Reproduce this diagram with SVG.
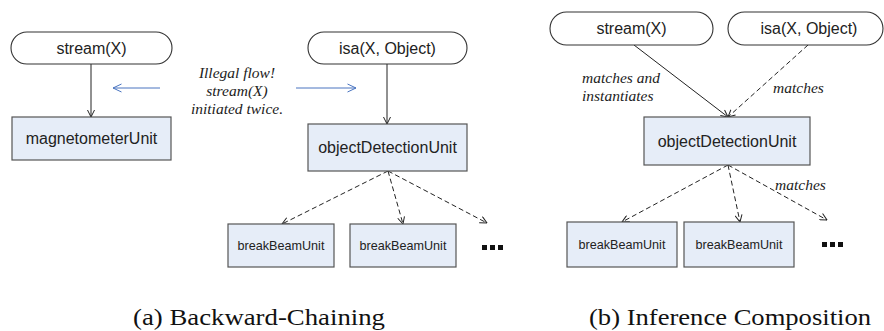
<svg xmlns="http://www.w3.org/2000/svg" width="884" height="331" viewBox="0 0 884 331">
<style>
.pill{fill:#fff;stroke:#333;stroke-width:1.1}
.box{fill:#e6edf8;stroke:#555;stroke-width:1.2}
.t{font-family:"Liberation Sans",Arial,sans-serif;fill:#222;text-anchor:middle;dominant-baseline:central}
.t16{font-size:16px}
.t12{font-size:12.6px}
.lab{font-family:"Liberation Serif","Times New Roman",serif;font-style:italic;font-size:15.5px;fill:#222}
.cap{font-family:"Liberation Serif","Times New Roman",serif;font-size:23px;fill:#111}
.ln{fill:none;stroke:#222;stroke-width:1}
.dash{stroke-dasharray:5,3}
.blue{fill:none;stroke:#4a74c0;stroke-width:1}
</style>
<defs>
<marker id="ah" viewBox="0 0 8 8" refX="7.5" refY="4" markerWidth="8" markerHeight="8" markerUnits="userSpaceOnUse" orient="auto">
<path d="M0.5,0.5 L7.5,4 L0.5,7.5" fill="none" stroke="#222" stroke-width="1"/>
</marker>
<marker id="ahb" viewBox="0 0 10 10" refX="9.5" refY="5" markerWidth="10" markerHeight="10" markerUnits="userSpaceOnUse" orient="auto">
<path d="M1,1 L9.5,5 L1,9" fill="none" stroke="#4a74c0" stroke-width="1"/>
</marker>
</defs>

<g id="connectors">
<line class="ln" x1="91" y1="64" x2="91" y2="117" marker-end="url(#ah)"/>
<line class="ln" x1="387" y1="64" x2="387" y2="124" marker-end="url(#ah)"/>
<line class="ln dash" x1="388" y1="171" x2="282" y2="224" marker-end="url(#ah)"/>
<line class="ln dash" x1="388" y1="171" x2="403" y2="224" marker-end="url(#ah)"/>
<line class="ln dash" x1="388" y1="171" x2="487" y2="223" marker-end="url(#ah)"/>
<line class="blue" x1="160" y1="88" x2="113" y2="88" marker-end="url(#ahb)"/>
<line class="blue" x1="296" y1="88" x2="356" y2="88" marker-end="url(#ahb)"/>
<line class="ln" x1="634" y1="45" x2="728" y2="117" marker-end="url(#ah)"/>
<line class="ln dash" x1="808" y1="45" x2="728" y2="117" marker-end="url(#ah)"/>
<line class="ln dash" x1="728" y1="165" x2="622" y2="222" marker-end="url(#ah)"/>
<line class="ln dash" x1="728" y1="165" x2="740" y2="222" marker-end="url(#ah)"/>
<line class="ln dash" x1="728" y1="165" x2="827" y2="220" marker-end="url(#ah)"/>
</g>

<g id="labels">
<text class="lab" x="237" y="78" text-anchor="middle">Illegal flow!</text>
<text class="lab" x="237" y="96" text-anchor="middle">stream(X)</text>
<text class="lab" x="237" y="114" text-anchor="middle">initiated twice.</text>
<text class="lab" x="582" y="83">matches and</text>
<text class="lab" x="582" y="101">instantiates</text>
<text class="lab" x="773" y="93">matches</text>
<text class="lab" x="775" y="190">matches</text>
</g>

<g id="a-stream">
<rect class="pill" x="11" y="32" width="161" height="32" rx="16"/>
<text class="t t16" x="91.5" y="48">stream(X)</text>
</g>
<g id="a-magnetometer">
<rect class="box" x="12" y="117" width="159" height="43"/>
<text class="t t16" x="91.5" y="138.5">magnetometerUnit</text>
</g>
<g id="a-isa">
<rect class="pill" x="308" y="32" width="159" height="32" rx="16"/>
<text class="t t16" x="387.5" y="48">isa(X, Object)</text>
</g>
<g id="a-objectDetection">
<rect class="box" x="308" y="124" width="159" height="47"/>
<text class="t t16" x="387.5" y="147.5">objectDetectionUnit</text>
</g>
<g id="a-breakBeam1">
<rect class="box" x="228" y="224" width="106" height="43"/>
<text class="t t12" x="281" y="245.5">breakBeamUnit</text>
</g>
<g id="a-breakBeam2">
<rect class="box" x="350" y="224" width="106" height="43"/>
<text class="t t12" x="403" y="245.5">breakBeamUnit</text>
</g>
<g id="a-dots" fill="#111">
<rect x="482" y="245" width="5" height="5"/>
<rect x="490" y="245" width="5" height="5"/>
<rect x="498" y="245" width="5" height="5"/>
</g>

<g id="b-stream">
<rect class="pill" x="550" y="12" width="163" height="33" rx="16.5"/>
<text class="t t16" x="631.5" y="28.5">stream(X)</text>
</g>
<g id="b-isa">
<rect class="pill" x="728" y="12" width="155" height="33" rx="16.5"/>
<text class="t t16" x="809" y="28.5">isa(X, Object)</text>
</g>
<g id="b-objectDetection">
<rect class="box" x="644" y="117" width="166" height="48"/>
<text class="t t16" x="727" y="141">objectDetectionUnit</text>
</g>
<g id="b-breakBeam1">
<rect class="box" x="567" y="222" width="110" height="45"/>
<text class="t t12" x="622" y="244.5">breakBeamUnit</text>
</g>
<g id="b-breakBeam2">
<rect class="box" x="684" y="222" width="110" height="45"/>
<text class="t t12" x="739" y="244.5">breakBeamUnit</text>
</g>
<g id="b-dots" fill="#111">
<rect x="822" y="242" width="5" height="5"/>
<rect x="830" y="242" width="5" height="5"/>
<rect x="838" y="242" width="5" height="5"/>
</g>

<g id="captions">
<text class="cap" x="133" y="325" textLength="252" lengthAdjust="spacingAndGlyphs">(a) Backward-Chaining</text>
<text class="cap" x="589" y="325" textLength="282" lengthAdjust="spacingAndGlyphs">(b) Inference Composition</text>
</g>
</svg>
